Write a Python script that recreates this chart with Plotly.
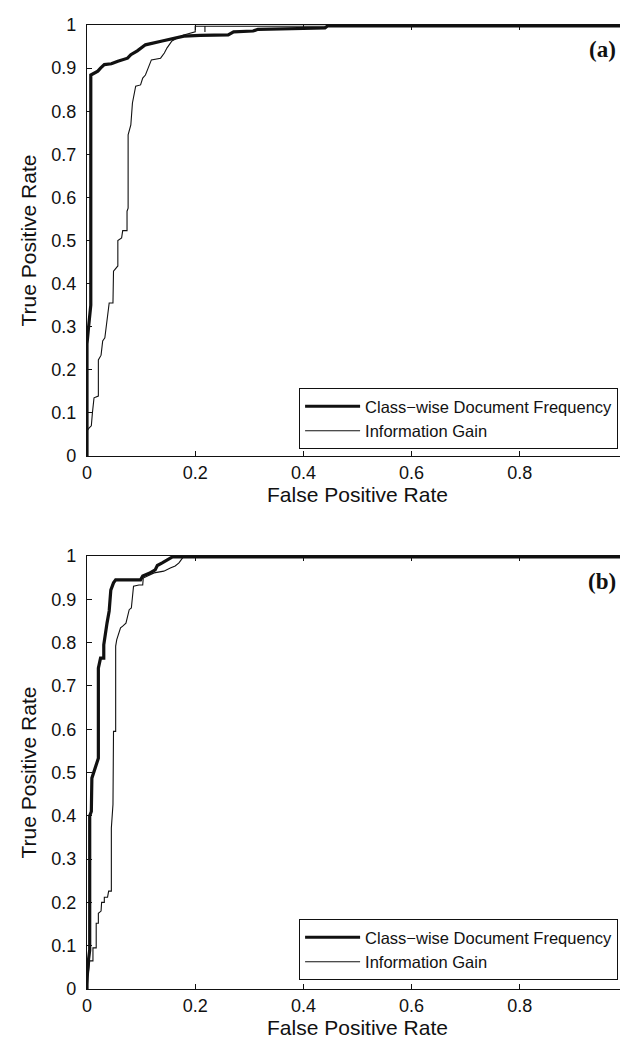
import plotly.graph_objects as go

# ---- Panel (a) data ----
a_cdf_x = [0, 0, 0.003, 0.005, 0.007, 0.007, 0.012, 0.02, 0.025, 0.032, 0.045, 0.057, 0.075, 0.081, 0.093,
           0.1, 0.108, 0.139, 0.157, 0.179, 0.209, 0.261, 0.271, 0.307, 0.316, 0.44, 0.445, 1.0]
a_cdf_y = [0, 0.26, 0.30, 0.33, 0.35, 0.884, 0.887, 0.893, 0.9, 0.908, 0.91, 0.916, 0.923, 0.931, 0.94,
           0.947, 0.954, 0.963, 0.968, 0.974, 0.976, 0.977, 0.984, 0.986, 0.99, 0.993, 0.998, 0.998]
a_ig_x = [0, 0, 0.004, 0.008, 0.01, 0.013, 0.021, 0.021, 0.026, 0.029, 0.033, 0.037, 0.041, 0.048, 0.049,
          0.057, 0.057, 0.064, 0.066, 0.074, 0.074, 0.076, 0.076, 0.081, 0.084, 0.09, 0.099, 0.103, 0.108,
          0.113, 0.119, 0.136, 0.143, 0.148, 0.157, 0.167, 0.179, 0.2, 0.2, 0.218, 0.218, 0.218, 1.0]
a_ig_y = [0, 0.058, 0.065, 0.07, 0.10, 0.135, 0.139, 0.223, 0.234, 0.267, 0.274, 0.309, 0.355, 0.355, 0.429,
          0.441, 0.5, 0.506, 0.523, 0.523, 0.568, 0.575, 0.745, 0.768, 0.819, 0.858, 0.861, 0.877, 0.884,
          0.9, 0.919, 0.923, 0.935, 0.947, 0.963, 0.97, 0.977, 0.984, 0.997, 0.997, 0.984, 0.997, 0.997]

# ---- Panel (b) data ----
b_cdf_x = [0, 0, 0.003, 0.005, 0.005, 0.008, 0.009, 0.015, 0.021, 0.021, 0.025, 0.031, 0.031, 0.037, 0.041,
           0.044, 0.049, 0.053, 0.099, 0.103, 0.115, 0.126, 0.13, 0.139, 0.148, 0.158, 1.0]
b_cdf_y = [0, 0.03, 0.07, 0.09, 0.40, 0.41, 0.487, 0.51, 0.533, 0.741, 0.764, 0.764, 0.795, 0.845, 0.873,
           0.921, 0.938, 0.945, 0.945, 0.954, 0.96, 0.968, 0.978, 0.984, 0.991, 0.998, 0.998]
b_ig_x = [0, 0.003, 0.005, 0.005, 0.011, 0.011, 0.017, 0.017, 0.021, 0.021, 0.026, 0.027, 0.032, 0.032,
          0.038, 0.04, 0.045, 0.045, 0.048, 0.049, 0.053, 0.053, 0.055, 0.057, 0.062, 0.066, 0.072, 0.078,
          0.082, 0.086, 0.096, 0.103, 0.104, 0.124, 0.133, 0.142, 0.154, 0.163, 0.17, 0.174, 0.178, 1.0]
b_ig_y = [0, 0.04, 0.056, 0.065, 0.065, 0.095, 0.095, 0.152, 0.152, 0.175, 0.18, 0.2, 0.2, 0.212,
          0.212, 0.226, 0.226, 0.372, 0.426, 0.595, 0.595, 0.792, 0.807, 0.815, 0.834, 0.838, 0.845, 0.876,
          0.88, 0.93, 0.933, 0.933, 0.949, 0.961, 0.963, 0.965, 0.972, 0.977, 0.984, 0.991, 0.998, 0.998]

series_names = ["Class\u2212wise Document Frequency", "Information Gain"]
panel_labels = ["(a)", "(b)"]
x_title = "False Positive Rate"
y_title = "True Positive Rate"

FONT = "Liberation Sans, Arial, Helvetica, sans-serif"
SERIF = "Liberation Serif, Times New Roman, serif"
INK = "#111111"

fig = go.Figure()
fig.add_trace(go.Scatter(x=a_cdf_x, y=a_cdf_y, mode="lines", name=series_names[0],
                         line=dict(color=INK, width=3.2), xaxis="x", yaxis="y", legend="legend"))
fig.add_trace(go.Scatter(x=a_ig_x, y=a_ig_y, mode="lines", name=series_names[1],
                         line=dict(color=INK, width=1.1), xaxis="x", yaxis="y", legend="legend"))
fig.add_trace(go.Scatter(x=b_cdf_x, y=b_cdf_y, mode="lines", name=series_names[0],
                         line=dict(color=INK, width=3.2), xaxis="x2", yaxis="y2", legend="legend2"))
fig.add_trace(go.Scatter(x=b_ig_x, y=b_ig_y, mode="lines", name=series_names[1],
                         line=dict(color=INK, width=1.1), xaxis="x2", yaxis="y2", legend="legend2"))

common_x = dict(range=[0, 1], dtick=0.2, tick0=0, showgrid=False, zeroline=False, showline=True,
                linecolor=INK, linewidth=1.2, mirror="ticks", ticks="inside", ticklen=5, tickcolor=INK,
                tickfont=dict(family=FONT, size=18, color=INK), fixedrange=True,
                ticklabeloverflow="allow", ticklabelstandoff=0,
                title=dict(text=x_title, font=dict(family=FONT, size=21, color=INK), standoff=2))
common_y = dict(range=[0, 1], dtick=0.1, tick0=0, showgrid=False, zeroline=False, showline=True,
                linecolor=INK, linewidth=1.2, mirror="ticks", ticks="inside", ticklen=5, tickcolor=INK,
                tickfont=dict(family=FONT, size=18, color=INK), fixedrange=True,
                ticklabeloverflow="allow", ticklabelstandoff=6,
                title=dict(text=y_title, font=dict(family=FONT, size=21, color=INK), standoff=8))

H = 1039
top, bot = 17, 58
ph = H - top - bot

legend_common = dict(bgcolor="white", bordercolor=INK, borderwidth=1,
                     font=dict(family=FONT, size=16.5, color=INK), xanchor="right", yanchor="bottom",
                     tracegroupgap=0, itemwidth=55)

fig.update_layout(
    width=628, height=H,
    margin=dict(l=79, r=3, t=top, b=bot),
    paper_bgcolor="white", plot_bgcolor="white",
    xaxis=dict(common_x, domain=[0, 1], anchor="y"),
    yaxis=dict(common_y, domain=[1 - 431 / ph, 1], anchor="x"),
    xaxis2=dict(common_x, domain=[0, 1], anchor="y2"),
    yaxis2=dict(common_y, domain=[0, 433 / ph], anchor="x2"),
    legend=dict(legend_common, x=(615 - 79) / 546, y=(981 - 441) / ph),
    legend2=dict(legend_common, x=(615 - 79) / 546, y=(981 - 972) / ph),
    annotations=[
        dict(text="<b>" + panel_labels[0] + "</b>", xref="x domain", yref="y domain", x=0.952, y=0.942,
             xanchor="center", yanchor="middle", showarrow=False,
             font=dict(family=SERIF, size=23, color=INK)),
        dict(text="<b>" + panel_labels[1] + "</b>", xref="x2 domain", yref="y2 domain", x=0.952, y=0.942,
             xanchor="center", yanchor="middle", showarrow=False,
             font=dict(family=SERIF, size=23, color=INK)),
    ],
)

fig.write_html("out.html")
